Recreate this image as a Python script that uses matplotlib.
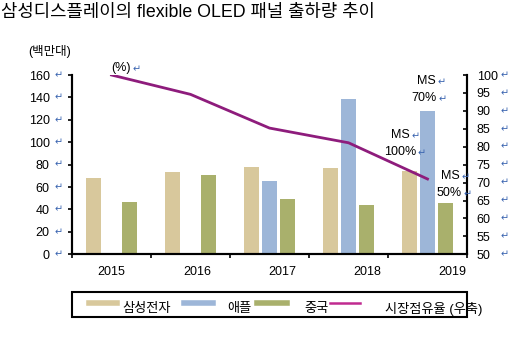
import matplotlib.pyplot as plt
from matplotlib.patches import Rectangle
from matplotlib.lines import Line2D
import numpy as np

plt.rcParams['font.family'] = ['Liberation Sans', 'Noto Sans CJK KR', 'DejaVu Sans']

# 데이터
years = ['2015', '2016', '2017', '2018', '2019']
samsung = [68, 73, 78, 77, 74]
apple = [0, 0, 65, 139, 128]
china = [47, 71, 49, 44, 46]
share = [100, 94.6, 85.2, 81.1, 71]

left_ticks = list(range(0, 161, 20))
right_ticks = list(range(50, 101, 5))

c_sam = '#D8C89C'
c_app = '#9DB6D8'
c_chn = '#A9B06C'
c_line = '#8E1C7C'
c_ret = '#3A64B0'

W, H = 515, 350
fig = plt.figure(figsize=(W / 100, H / 100), dpi=100)

def fx(x):
    return x / W

def fy(y):
    return 1 - y / H

ax = fig.add_axes([fx(72), fy(254.3), fx(467) - fx(72), fy(75) - fy(254.3)])

x = np.arange(len(years))
off = 0.222
bw = 0.19
ax.bar(x - off, samsung, bw, color=c_sam, zorder=2)
ax.bar(x, apple, bw, color=c_app, zorder=2)
ax.bar(x + off, china, bw, color=c_chn, zorder=2)

ax.set_xlim(-0.5, 4.5)
ax.set_ylim(0, 160)
ax.set_yticks(left_ticks)
ax.set_yticklabels([str(v) for v in left_ticks], fontsize=9)
ax.tick_params(axis='y', direction='out', length=3, width=1.2, pad=13)
ax.set_xticks(np.arange(-0.5, 4.6, 1))
ax.set_xticklabels([])
ax.tick_params(axis='x', direction='out', length=3, width=1.2)
ax.spines['top'].set_visible(False)
for s in ['left', 'bottom', 'right']:
    ax.spines[s].set_linewidth(1.5)
ax.patch.set_alpha(0)

# 연도 라벨 (원본처럼 오른쪽으로 조금씩 밀림)
for i, yr in enumerate(years):
    ax.text(i + 0.08 * i, -0.1, yr, transform=ax.get_xaxis_transform(),
            ha='center', va='center', fontsize=9)

ax2 = ax.twinx()
ax2.plot(x, share, color=c_line, lw=2, zorder=5)
ax2.set_ylim(50, 100)
ax2.set_yticks(right_ticks)
ax2.set_yticklabels([str(v) for v in right_ticks], fontsize=9)
ax2.tick_params(axis='y', direction='in', length=3, width=1.2, pad=7)
ax2.spines['top'].set_visible(False)
for s in ['left', 'bottom', 'right']:
    ax2.spines[s].set_linewidth(1.5)

# 줄바꿈 표시 (↵)
for v in left_ticks:
    ax.text(-0.035, v, '↵', transform=ax.get_yaxis_transform(), color=c_ret,
            fontsize=7, ha='center', va='center', family='DejaVu Sans')
for v in right_ticks:
    ax2.text(1.095, v, '↵', transform=ax2.get_yaxis_transform(), color=c_ret,
             fontsize=7, ha='center', va='center', family='DejaVu Sans')

# 주석
def note(px, py, s):
    fig.text(fx(px), fy(py), s, fontsize=9, ha='right', va='center')

def ret(px, py):
    fig.text(fx(px), fy(py), '↵', fontsize=7, color=c_ret, ha='left', va='center',
             family='DejaVu Sans')

note(131, 68, '(%)'); ret(133, 69)
note(436, 81, 'MS'); ret(438, 82)
note(437, 98, '70%'); ret(439, 99)
note(410, 135, 'MS'); ret(412, 136)
note(416, 152, '100%'); ret(418, 153)
note(460, 176, 'MS'); ret(462, 177)
note(462, 193, '50%'); ret(464, 194)

fig.text(fx(28), fy(52), '(백만대)', fontsize=9, ha='left', va='center')
fig.text(fx(1), fy(13), '삼성디스플레이의 flexible OLED 패널 출하량 추이', fontsize=12.8,
         ha='left', va='center')

# 범례
fig.add_artist(Rectangle((fx(72), fy(317)), fx(467) - fx(72), fy(292) - fy(317),
                         transform=fig.transFigure, fill=False, ec='black', lw=1.5))
for x0, x1, c in [(89, 117, c_sam), (184, 213, c_app), (257, 287, c_chn)]:
    fig.add_artist(Line2D([fx(x0), fx(x1)], [fy(303), fy(303)], color=c, lw=4,
                          transform=fig.transFigure))
fig.add_artist(Line2D([fx(330), fx(360)], [fy(303), fy(303)], color='#C02A90', lw=1.8,
                      transform=fig.transFigure))
for px, s in [(122, '삼성전자'), (227, '애플'), (304, '중국'), (385, '시장점유율 (우축)')]:
    fig.text(fx(px), fy(309), s, fontsize=9.5, ha='left', va='center')

fig.savefig('out.png', dpi=100)
